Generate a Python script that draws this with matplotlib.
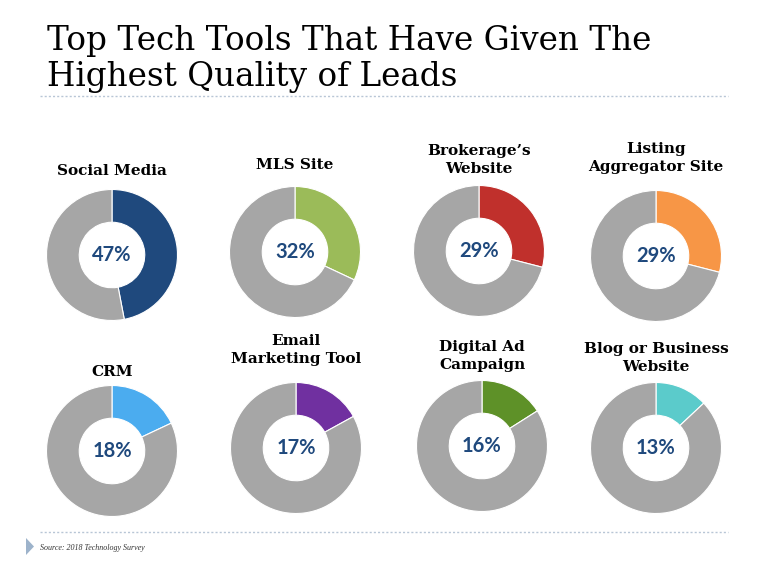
import matplotlib
matplotlib.use("Agg")
import matplotlib.pyplot as plt
from matplotlib.patches import Polygon

# ---- data ----
labels = ["Social Media", "MLS Site", "Brokerage\u2019s\nWebsite", "Listing\nAggregator Site",
          "CRM", "Email\nMarketing Tool", "Digital Ad\nCampaign", "Blog or Business\nWebsite"]
values = [47, 32, 29, 29, 18, 17, 16, 13]
colors = ["#1F497D", "#9BBB59", "#C0302C", "#F79646",
          "#4BACEF", "#7030A0", "#5E9128", "#5BCBCB"]
rest_color = "#A6A6A6"
title_lines = ["Top Tech Tools That Have Given The", "Highest Quality of Leads"]
source = "Source: 2018 Technology Survey"

W, H = 767, 574
fig = plt.figure(figsize=(W / 100, H / 100), dpi=100)
fig.patch.set_facecolor("white")

# donut centers (pixels), radius in pixels
centers = [(112, 255), (295, 252), (479, 251), (656, 256),
           (112, 451), (296, 448), (482, 446), (656, 448)]
label_y = [171, 165, 160, 158, 372, 350, 356, 358]
R = 65.5
box = 150  # axes size px

for (cx, cy), v, c in zip(centers, values, colors):
    ax = fig.add_axes([(cx - box / 2) / W, (H - cy - box / 2) / H, box / W, box / H])
    ax.pie([v, 100 - v], colors=[c, rest_color], startangle=90, counterclock=False,
           radius=1, wedgeprops=dict(width=0.5, edgecolor="white", linewidth=0.8))
    lim = box / 2 / R
    ax.set_xlim(-lim, lim)
    ax.set_ylim(-lim, lim)
    ax.set_aspect("equal")
    ax.axis("off")

ov = fig.add_axes([0, 0, 1, 1])
ov.set_xlim(0, W)
ov.set_ylim(H, 0)
ov.axis("off")
ov.patch.set_alpha(0)

for i, line in enumerate(title_lines):
    ov.text(47, 50 + 36 * i, line, fontsize=23.5, family="DejaVu Serif", ha="left",
            va="baseline", color="black")
ov.plot([40, 728], [96, 96], linestyle=(0, (1.5, 1.5)), color="#B8C6D6", linewidth=1)
ov.plot([40, 728], [532, 532], linestyle=(0, (1.5, 1.5)), color="#B8C6D6", linewidth=1)
ov.add_patch(Polygon([[26, 538], [26, 555], [34, 546.5]], closed=True, color="#9DB3CB", lw=0))
ov.text(40, 548, source, fontsize=5.8, family="Liberation Serif", style="italic", ha="left",
        va="center", color="#333333")

for (cx, cy), ly, lab, v in zip(centers, label_y, labels, values):
    ov.text(cx, ly, lab, fontsize=11, family="DejaVu Serif", weight="bold", ha="center",
            va="center", linespacing=1.35, color="black")
    ov.text(cx, cy, f"{v}%", fontsize=14.5, family="Lato", weight="bold", ha="center",
            va="center", color="#1F497D")

fig.savefig("out.png", dpi=100, facecolor="white")
